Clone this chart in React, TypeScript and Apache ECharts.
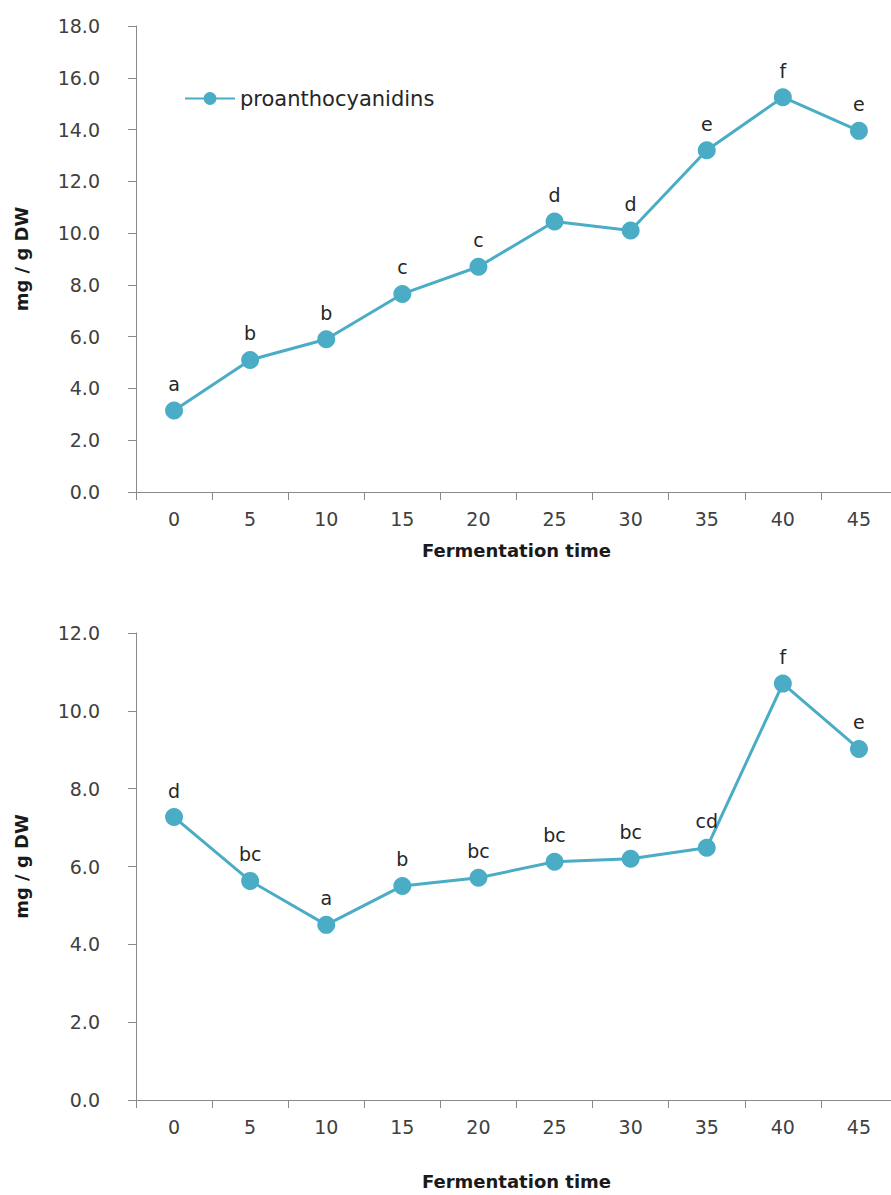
import React, { useEffect, useRef } from "react";
import * as echarts from "echarts";

const categories = ["0", "5", "10", "15", "20", "25", "30", "35", "40", "45"];
const topValues = [3.15, 5.1, 5.9, 7.65, 8.7, 10.45, 10.1, 13.2, 15.25, 13.95];
const topLetters = ["a", "b", "b", "c", "c", "d", "d", "e", "f", "e"];
const bottomValues = [7.27, 5.63, 4.5, 5.5, 5.71, 6.12, 6.2, 6.48, 10.7, 9.02];
const bottomLetters = ["d", "bc", "a", "b", "bc", "bc", "bc", "cd", "f", "e"];
const seriesName = "proanthocyanidins";
const xTitle = "Fermentation time";
const yTitle = "mg / g DW";

const COLOR = "#4BACC6";
const AXIS = "#898989";
const FONT = "'DejaVu Sans', 'Noto Sans', sans-serif";

export default function App() {
  const ref = useRef<HTMLDivElement>(null);
  useEffect(() => {
    if (!ref.current) return;
    const chart = echarts.init(ref.current, undefined, { renderer: "svg" });
    const xAxisBase = (gridIndex: number, nameGap: number) => ({
      type: "category" as const,
      gridIndex,
      data: categories,
      boundaryGap: true,
      name: xTitle,
      nameLocation: "middle" as const,
      nameGap,
      nameTextStyle: { fontFamily: FONT, fontSize: 18, fontWeight: "bold", color: "#1a1a1a" },
      axisLine: { lineStyle: { color: AXIS, width: 1 } },
      axisTick: { show: true, length: 8, lineStyle: { color: AXIS } },
      axisLabel: { fontFamily: FONT, fontSize: 19, color: "#404040", margin: 17 },
      splitLine: { show: false },
    });
    const yAxisBase = (gridIndex: number, max: number) => ({
      type: "value" as const,
      gridIndex,
      min: 0,
      max,
      interval: 2,
      name: yTitle,
      nameLocation: "middle" as const,
      nameGap: 106,
      nameTextStyle: { fontFamily: FONT, fontSize: 18, fontWeight: "bold", color: "#1a1a1a" },
      axisLine: { show: true, lineStyle: { color: AXIS, width: 1 } },
      axisTick: { show: true, length: 8, lineStyle: { color: AXIS } },
      axisLabel: {
        fontFamily: FONT,
        fontSize: 19,
        color: "#404040",
        margin: 36,
        formatter: (v: number) => v.toFixed(1),
      },
      splitLine: { show: false },
    });
    const lineSeries = (idx: number, values: number[], letters: string[]) => ({
      type: "line" as const,
      name: seriesName,
      xAxisIndex: idx,
      yAxisIndex: idx,
      data: values,
      symbol: "circle",
      symbolSize: 18,
      itemStyle: { color: COLOR },
      lineStyle: { color: COLOR, width: 3 },
      label: {
        show: true,
        position: "top" as const,
        distance: 8,
        fontFamily: FONT,
        fontSize: 19,
        color: "#262626",
        formatter: (p: any) => letters[p.dataIndex],
      },
    });
    chart.setOption({
      animation: false,
      backgroundColor: "#ffffff",
      grid: [
        { left: 136, top: 26, width: 761, height: 466 },
        { left: 136, top: 633, width: 761, height: 467 },
      ],
      legend: {
        data: [seriesName],
        left: 179,
        top: 83,
        itemWidth: 50,
        itemHeight: 16,
        itemGap: 6,
        textStyle: { fontFamily: FONT, fontSize: 21, color: "#262626" },
      },
      xAxis: [xAxisBase(0, 49), xAxisBase(1, 72)],
      yAxis: [yAxisBase(0, 18), yAxisBase(1, 12)],
      series: [lineSeries(0, topValues, topLetters), lineSeries(1, bottomValues, bottomLetters)],
    });
    return () => chart.dispose();
  }, []);
  return (
    <div
      style={{
        position: "absolute",
        left: 0,
        top: 0,
        width: 891,
        height: 1195,
        overflow: "hidden",
        background: "#ffffff",
      }}
    >
      <div ref={ref} style={{ width: 905, height: 1195 }} />
    </div>
  );
}
